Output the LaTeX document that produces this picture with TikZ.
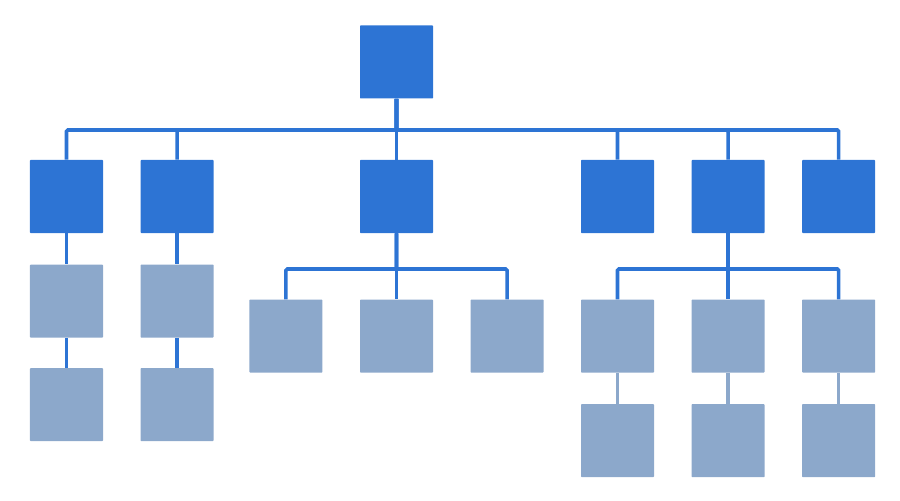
\documentclass[tikz,border=0pt]{standalone}
\usetikzlibrary{positioning}
\definecolor{boss}{RGB}{45,116,212}
\definecolor{staff}{RGB}{140,168,203}

\begin{document}
\begin{tikzpicture}[
    x=0.25mm, y=-0.25mm,
    head/.style={fill=boss, minimum size=18.25mm, inner sep=0pt, rounded corners=0.5pt},
    sub/.style={head, fill=staff},
    link/.style={draw=boss, line width=0.9mm, rounded corners=1pt},
    sublink/.style={link, draw=staff},
  ]
  \useasboundingbox (0,0) rectangle (900,501);

  % --- top of the tree ---
  \node[head] (top) at (396.5,62) {};
  \coordinate (bar) at (0,130);
  \coordinate (midbar) at (0,269);

  % --- first row ---
  \node[head] (h1) at (66.5,196.5) {};
  \node[head, right=9.25mm of h1] (h2) {};
  \node[head] (h3) at (396.5,196.5) {};
  \node[head] (h4) at (617.5,196.5) {};
  \node[head, right=9.25mm of h4] (h5) {};
  \node[head, right=9.25mm of h5] (h6) {};

  \foreach \n in {h1,h2,h3,h4,h5,h6}
    \draw[link] (top) -- (top |- bar) -| (\n);

  % --- left: two short chains ---
  \node[sub, below=7.75mm of h1] (s1) {};
  \node[sub, below=7.5mm of s1] (t1) {};
  \node[sub, below=7.75mm of h2] (s2) {};
  \node[sub, below=7.5mm of s2] (t2) {};
  \draw[link] (h1) -- (s1);
  \draw[link] (s1) -- (t1);
  \draw[link] (h2) -- (s2);
  \draw[link] (s2) -- (t2);

  % --- middle: three children ---
  \node[sub, below=16.5mm of h3] (m2) {};
  \node[sub, left=9.25mm of m2] (m1) {};
  \node[sub, right=9.25mm of m2] (m3) {};
  \foreach \n in {m1,m2,m3}
    \draw[link] (h3) -- (h3 |- midbar) -| (\n);

  % --- right: three children, each with one more ---
  \node[sub, below=16.5mm of h5] (r2) {};
  \node[sub, left=9.25mm of r2] (r1) {};
  \node[sub, right=9.25mm of r2] (r3) {};
  \foreach \n in {r1,r2,r3}
    \draw[link] (h5) -- (h5 |- midbar) -| (\n);

  \node[sub, below=7.75mm of r1] (b1) {};
  \node[sub, below=7.75mm of r2] (b2) {};
  \node[sub, below=7.75mm of r3] (b3) {};
  \draw[sublink] (r1) -- (b1);
  \draw[sublink] (r2) -- (b2);
  \draw[sublink] (r3) -- (b3);
\end{tikzpicture}
\end{document}
